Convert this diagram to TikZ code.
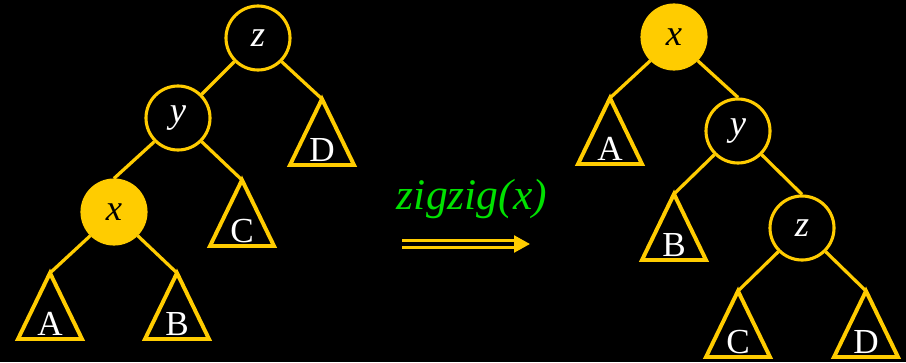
\documentclass[tikz,border=0pt]{standalone}
\usepackage{fontspec}
\setmainfont{Liberation Serif}
\usetikzlibrary{arrows.meta}

\definecolor{gold}{RGB}{255,204,0}
\definecolor{opgreen}{RGB}{0,225,0}

% one subtree: apex name, apex position, label
\newcommand{\subtree}[3]{
  \coordinate (#1) at (#2);
  \draw[leaf] (#1) -- ++(-32,66) -- ++(64,0) -- cycle;
  \path (#1) ++(0,51) node[leaftext] (#1l) {#3};
}

\begin{document}
\begin{tikzpicture}[x=0.025cm, y=-0.025cm,
    key/.style={circle, draw=gold, line width=2.2pt, minimum size=1.6cm, inner sep=0pt,
      text=white, font=\fontsize{26}{30}\selectfont\itshape},
    hot/.style={key, fill=gold, text=black},
    edge/.style={gold, line width=2.3pt},
    leaf/.style={gold, line width=2.8pt, line join=miter},
    leaftext/.style={text=white, inner sep=0pt, font=\fontsize{25}{30}\selectfont}]

  \fill[black] (0,0) rectangle (906,362);

  % before
  \node[key] (z1) at (258,38) {z};
  \node[key] (y1) at (178,118) {y};
  \node[hot] (x1) at (114,212) {x};
  \subtree{d1}{322,99}{D}
  \subtree{c1}{242,180}{C}
  \subtree{a1}{50,273}{A}
  \subtree{b1}{177,273}{B}
  \draw[edge] (z1.225) -- (y1.45);
  \draw[edge] (z1.-45) -- (d1);
  \draw[edge] (y1.225) -- (x1.north);
  \draw[edge] (y1.-45) -- (c1);
  \draw[edge] (x1.225) -- (a1);
  \draw[edge] (x1.-45) -- (b1);

  % the rotation
  \node[text=opgreen, font=\fontsize{31}{36}\selectfont\itshape] (op) at (472,199) {zigzig(x)};
  \coordinate (s) at (402,244);
  \coordinate (t) at (530,244);
  \draw[gold, line width=2.2pt, double=black, double distance=0.09cm,
    -{Triangle[length=0.4cm, width=0.42cm]}] (s) -- (t);

  % after
  \node[hot] (x2) at (674,37) {x};
  \node[key] (y2) at (738,131) {y};
  \node[key] (z2) at (802,228) {z};
  \subtree{a2}{610,98}{A}
  \subtree{b2}{674,194}{B}
  \subtree{c2}{738,291}{C}
  \subtree{d2}{866,291}{D}
  \draw[edge] (x2.225) -- (a2);
  \draw[edge] (x2.-45) -- (y2.north);
  \draw[edge] (y2.225) -- (b2);
  \draw[edge] (y2.-45) -- (z2.north);
  \draw[edge] (z2.225) -- (c2);
  \draw[edge] (z2.-45) -- (d2);
\end{tikzpicture}
\end{document}
